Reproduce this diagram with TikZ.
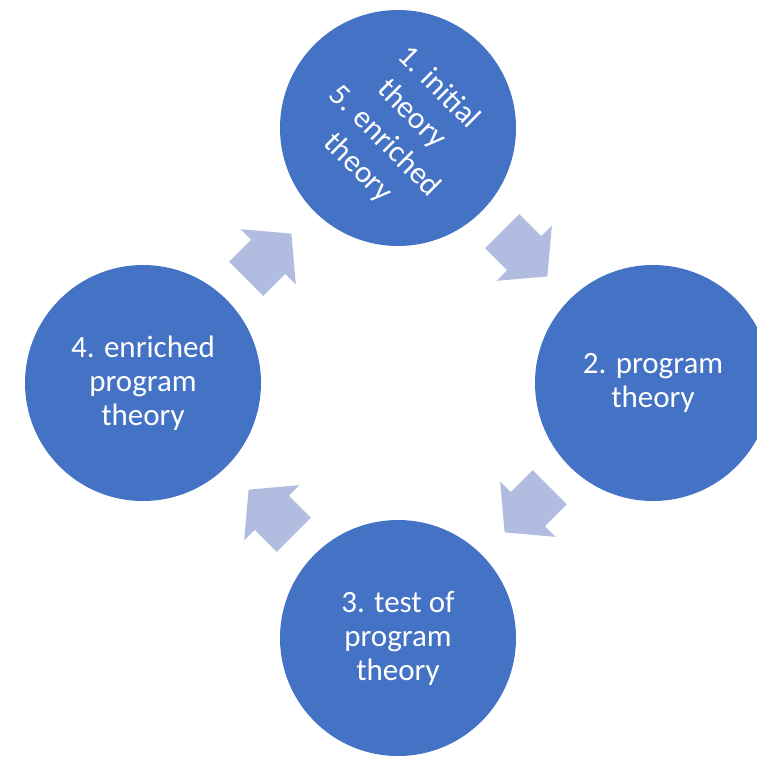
\documentclass[tikz,border=0pt]{standalone}
\usepackage{fontspec}
\setmainfont{Carlito}
\usetikzlibrary{shapes.arrows, positioning}
\definecolor{stageblue}{HTML}{4472C4}
\definecolor{turnblue}{HTML}{B1BDE0}
\tikzstyle{stage} = [circle, minimum size=236pt, inner sep=0pt, fill=stageblue, text=white, align=center, font=\fontsize{31}{34}\selectfont]
\tikzstyle{turn} = [single arrow, anchor=tail, minimum height=64pt, minimum width=78pt, single arrow head extend=15pt, single arrow tip angle=100, inner xsep=0pt, inner ysep=24pt, fill=turnblue]

\begin{document}
\begin{tikzpicture}[x=1pt, y=1pt]

  \useasboundingbox (0,0) rectangle (757,-756);
  \clip (0,0) rectangle (757,-756);
  \coordinate (hub) at (398,-383);

  \node (initial) [stage, rotate=-45, font=\fontsize{31}{38}\selectfont] at ([shift={(0,255)}]hub) {1. initial\\theory\\5. enriched\\theory};
  \node (program) [stage] at ([shift={(255,0)}]hub) {2. program\\theory};
  \node (test) [stage] at ([shift={(0,-255)}]hub) {3. test of\\program\\theory};
  \node (enriched) [stage] at ([shift={(-255,0)}]hub) {4. enriched\\program\\theory};

  \node (turnA) [turn, rotate=-45] at ([shift={(104,152)}]hub) {};
  \node (turnB) [turn, rotate=-135] at ([shift={(152,-104)}]hub) {};
  \node (turnC) [turn, rotate=135] at ([shift={(-104,-152)}]hub) {};
  \node (turnD) [turn, rotate=45] at ([shift={(-152,104)}]hub) {};

\end{tikzpicture}
\end{document}
